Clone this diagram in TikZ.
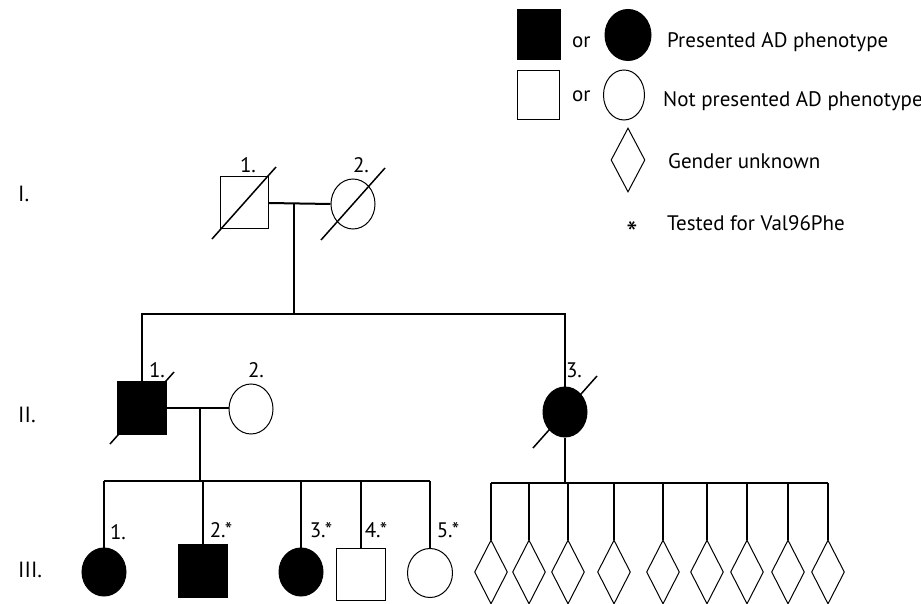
\documentclass[tikz,border=0pt]{standalone}
\usepackage{fontspec}
\setmainfont{PT Sans}
\usetikzlibrary{shapes}

\begin{document}
\begin{tikzpicture}[x=1pt,y=-1pt]
			\tikzstyle{male}=[rectangle,draw,line width=1pt,minimum width=48pt,minimum height=52pt,inner sep=0pt]
			\tikzstyle{female}=[ellipse,draw,line width=1pt,minimum width=44pt,minimum height=50pt,inner sep=0pt]
			\tikzstyle{unknown}=[diamond,draw,line width=1pt,minimum width=33pt,minimum height=64pt,inner sep=0pt]
			\tikzstyle{affected}=[fill=black]
			\tikzstyle{line}=[line width=2pt]
			\tikzstyle{slash}=[line width=1.5pt]
			\tikzstyle{num}=[font=\fontsize{21}{23}\selectfont,inner sep=0pt]
			\tikzstyle{gen}=[font=\fontsize{22}{24}\selectfont,inner sep=0pt,anchor=base west]
			\tikzstyle{legend}=[font=\fontsize{21}{24}\selectfont,inner sep=0pt,anchor=base west]
			
			\useasboundingbox (0,0) rectangle (921,604);
			
			% legend
			\node[male,affected,minimum width=43pt,minimum height=50pt] (Lma) at (539,35) {};
			\node[legend] (Lor1) at (572,48) {or};
			\node[female,affected,minimum width=46pt,minimum height=51pt] (Lfa) at (628,35) {};
			\node[legend] (Ltxt1) at (667,48) {Presented AD phenotype};
			\node[male,minimum width=42pt,minimum height=49pt] (Lmn) at (538,95) {};
			\node[legend] (Lor2) at (572,102) {or};
			\node[female,minimum width=41pt,minimum height=50pt] (Lfn) at (624,95) {};
			\node[legend] (Ltxt2) at (663,107) {Not presented AD phenotype};
			\node[unknown,minimum width=34pt] (Lun) at (628,160) {};
			\node[legend] (Ltxt3) at (668,169) {Gender unknown};
			\node[legend,anchor=center,font=\fontsize{32}{34}\selectfont] (Lstar) at (632,233) {*};
			\node[legend] (Ltxt4) at (667,230) {Tested for Val96Phe};
			
			% generations
			\node[gen] (gI) at (18,202) {I.};
			\node[gen] (gII) at (18,422) {II.};
			\node[gen] (gIII) at (18,577) {III.};
			
			% people
			\node[male] (I1) at (244,203) {};
			\node[female] (I2) at (353,204) {};
			\node[male,affected,minimum width=49pt,minimum height=53pt] (II1) at (142,408) {};
			\node[female] (II2) at (251,409) {};
			\node[female,affected] (II3) at (565,412) {};
			\node[female,affected,minimum height=48pt] (III1) at (104,572) {};
			\node[male,affected,minimum width=49pt,minimum height=53pt] (III2) at (203,571) {};
			\node[female,affected,minimum height=48pt] (III3) at (301,572) {};
			\node[male,minimum width=49pt] (III4) at (361,574) {};
			\node[female,minimum width=45pt,minimum height=49pt] (III5) at (430,573) {};
			\foreach \x [count=\i] in {491,529,568,614,663,707,747,788,828}
				\node[unknown] (U\i) at (\x,572) {};
			
			\foreach \n in {I1,I2,II1,II3}
				\draw[slash] ([shift={(-32,36)}]\n.center) -- ([shift={(32,-36)}]\n.center);
			
			% numbers
			\node[num] (nI1) at (248,165) {1.};
			\node[num] (nI2) at (361,165) {2.};
			\node[num] (nII1) at (157,370) {1.};
			\node[num] (nII2) at (256,370) {2.};
			\node[num] (nII3) at (574,370) {3.};
			\node[num] (nIII1) at (118,532) {1.};
			\node[num] (nIII2) at (221,530) {2.*};
			\node[num] (nIII3) at (321,530) {3.*};
			\node[num] (nIII4) at (376,530) {4.*};
			\node[num] (nIII5) at (448,530) {5.*};
			
			% lines
			\coordinate (m1) at (294,203);
			\coordinate (s1) at (294,314);
			\draw[line] (I1.east) -- (I2.west);
			\draw[line] (m1) -- (s1);
			\draw[line] (II1.north) -- (II1.north |- s1) -- (II3.north |- s1) -- (II3.north);
			
			\coordinate (m2) at (200,408);
			\coordinate (s2) at (200,481);
			\draw[line] (II1.east |- m2) -- (II2.west |- m2);
			\draw[line] (m2) -- (s2);
			\draw[line] (III1.north |- s2) -- (III5.north |- s2);
			\foreach \n in {III1,III2,III3,III4,III5}
				\draw[line] (\n.north |- s2) -- (\n.north);
			
			\coordinate (s3) at (565,483);
			\draw[line] (II3.south) -- (s3);
			\draw[line] (U1.north |- s3) -- (U9.north |- s3);
			\foreach \i in {1,...,9}
				\draw[line] (U\i.north |- s3) -- (U\i.north);
\end{tikzpicture}
\end{document}
